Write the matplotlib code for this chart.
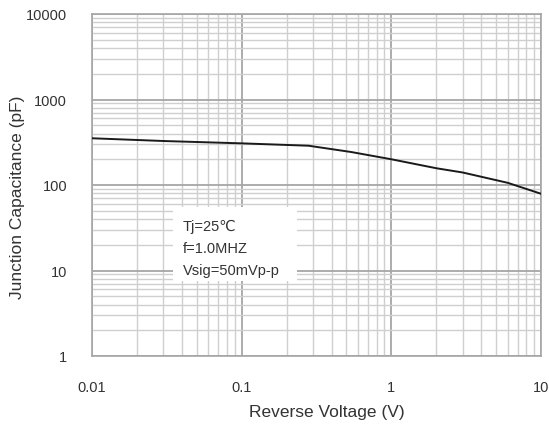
import matplotlib
matplotlib.use('Agg')
import matplotlib.pyplot as plt
from matplotlib.ticker import NullFormatter

# reverse voltage (V) vs junction capacitance (pF)
voltage = [0.01, 0.03, 0.1, 0.28, 0.54, 1.0, 2.0, 3.0, 6.0, 10.0]
capacitance = [352, 327, 307, 288, 243, 200, 157, 140, 106, 79]

x_ticks = [0.01, 0.1, 1, 10]
x_labels = ['0.01', '0.1', '1', '10']
y_ticks = [1, 10, 100, 1000, 10000]
y_labels = ['1', '10', '100', '1000', '10000']
notes = ['Tj=25\u2103', 'f=1.0MHZ', 'Vsig=50mVp-p']

plt.rcParams['font.family'] = ['Liberation Sans', 'DejaVu Sans']

fig = plt.figure(figsize=(5.49, 4.27), dpi=100)
ax = fig.add_axes([92 / 549, 1 - 357 / 427, 449 / 549, 342 / 427])

ax.set_xscale('log')
ax.set_yscale('log')
ax.set_xlim(0.01, 10)
ax.set_ylim(1, 10000)

ax.plot(voltage, capacitance, color='#1a1a1a', linewidth=1.4, zorder=3)

ax.set_xticks(x_ticks)
ax.set_xticklabels(x_labels)
ax.set_yticks(y_ticks)
ax.set_yticklabels(y_labels)
ax.xaxis.set_minor_formatter(NullFormatter())
ax.yaxis.set_minor_formatter(NullFormatter())

ax.grid(which='major', color='#a6a6a6', linewidth=1.3)
ax.grid(which='minor', color='#cfcfcf', linewidth=1.0)
ax.tick_params(which='both', length=0, labelsize=10.5, colors='#333333')
ax.tick_params(axis='y', pad=18)
ax.tick_params(axis='x', pad=17)
for s in ax.spines.values():
    s.set_color('#a6a6a6')
    s.set_linewidth(1.2)

ax.set_xlabel('Reverse Voltage (V)', fontsize=12.5, color='#333333', va='center')
ax.xaxis.set_label_coords((327 - 92) / 449, (357 - 412) / 342)
ax.set_ylabel('Junction Capacitance (pF)', fontsize=12.5, color='#333333', va='center')
ax.yaxis.set_label_coords((18 - 92) / 449, (357 - 197) / 342)

# condition box
box = plt.Rectangle((173 / 549, 1 - 282 / 427), 124 / 549, 74 / 427,
                    transform=fig.transFigure, facecolor='white',
                    edgecolor='none', zorder=5)
fig.patches.append(box)
for i, t in enumerate(notes):
    fig.text(183 / 549, 1 - (227 + i * 22) / 427, t, fontsize=10.5,
             color='#333333', va='center', ha='left', zorder=6)

fig.savefig('out.png', dpi=100)
